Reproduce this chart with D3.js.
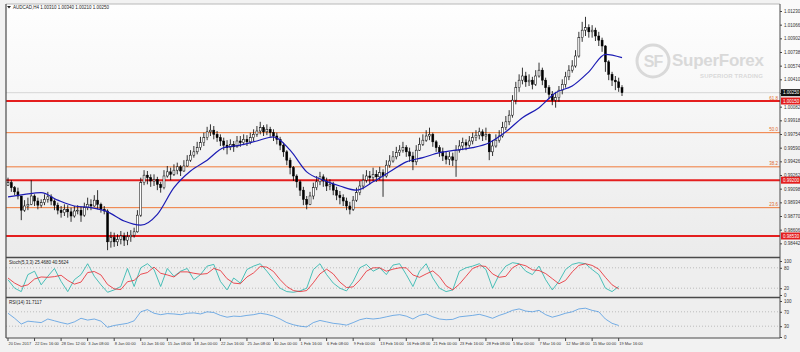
<!DOCTYPE html>
<html>
<head>
<meta charset="utf-8">
<script src="https://cdn.jsdelivr.net/npm/d3@7"></script>
<style>
  html, body { margin: 0; padding: 0; background: #f1f1f1; }
  svg { display: block; font-family: "Liberation Sans", Arial, sans-serif; }
</style>
</head>
<body>
<div id="chart"></div>
<script>
// AUDCAD H4, 20 Dec 2017 - 19 Mar 2018 (one value per two H4 bars)
const symbolTitle = "AUDCAD,H4  1.00310 1.00340 1.00210 1.00250";
const firstOpen = 0.9914;

const closes = [
  0.9917,0.9911,0.9906,0.9901,0.9884,0.9889,0.9891,0.9901,0.9895,0.9890,
  0.9893,0.9897,0.9900,0.9895,0.9890,0.9884,0.9881,0.9885,0.9882,0.9877,
  0.9883,0.9884,0.9878,0.9887,0.9891,0.9889,0.9896,0.9891,0.9885,0.9883,
  0.9846,0.9851,0.9846,0.9849,0.9853,0.9848,0.9852,0.9854,0.9858,0.9878,
  0.9917,0.9926,0.9923,0.9919,0.9921,0.9915,0.9911,0.9925,0.9930,0.9927,
  0.9932,0.9936,0.9931,0.9937,0.9944,0.9950,0.9954,0.9959,0.9965,0.9971,
  0.9978,0.9980,0.9975,0.9971,0.9967,0.9962,0.9959,0.9963,0.9960,0.9967,
  0.9965,0.9969,0.9966,0.9971,0.9975,0.9979,0.9983,0.9978,0.9981,0.9977,
  0.9973,0.9969,0.9962,0.9954,0.9944,0.9935,0.9925,0.9918,0.9908,0.9897,
  0.9891,0.9901,0.9911,0.9918,0.9924,0.9919,0.9913,0.9915,0.9908,0.9902,
  0.9899,0.9895,0.9889,0.9885,0.9896,0.9905,0.9913,0.9920,0.9925,0.9923,
  0.9927,0.9924,0.9929,0.9925,0.9938,0.9943,0.9948,0.9953,0.9956,0.9959,
  0.9954,0.9949,0.9942,0.9956,0.9963,0.9968,0.9973,0.9975,0.9966,0.9959,
  0.9954,0.9949,0.9945,0.9948,0.9944,0.9956,0.9961,0.9965,0.9962,0.9967,
  0.9971,0.9974,0.9978,0.9973,0.9975,0.9954,0.9961,0.9968,0.9973,0.9983,
  0.9990,0.9998,1.0016,1.0031,1.0040,1.0045,1.0038,1.0040,1.0035,1.0045,
  1.0052,1.0040,1.0031,1.0023,1.0016,1.0019,1.0028,1.0035,1.0044,1.0052,
  1.0057,1.0069,1.0091,1.0100,1.0103,1.0098,1.0100,1.0093,1.0088,1.0081,
  1.0062,1.0047,1.0040,1.0038,1.0031,1.0025
];
const highs = [
  0.9923,0.9920,0.9913,0.9911,0.9901,0.9896,0.9899,0.9920,0.9903,0.9899,
  0.9897,0.9903,0.9906,0.9903,0.9897,0.9893,0.9889,0.9891,0.9890,0.9887,
  0.9889,0.9890,0.9888,0.9893,0.9899,0.9897,0.9902,0.9908,0.9893,0.9889,
  0.9885,0.9858,0.9857,0.9855,0.9859,0.9857,0.9858,0.9860,0.9863,0.9884,
  0.9923,0.9932,0.9931,0.9927,0.9927,0.9924,0.9918,0.9932,0.9937,0.9935,
  0.9939,0.9941,0.9938,0.9944,0.9950,0.9956,0.9961,0.9966,0.9972,0.9977,
  0.9984,0.9987,0.9985,0.9979,0.9975,0.9971,0.9968,0.9969,0.9967,0.9973,
  0.9973,0.9975,0.9974,0.9977,0.9981,0.9985,0.9990,0.9986,0.9987,0.9984,
  0.9981,0.9977,0.9972,0.9965,0.9956,0.9947,0.9937,0.9927,0.9920,0.9912,
  0.9901,0.9906,0.9917,0.9925,0.9930,0.9927,0.9923,0.9921,0.9918,0.9912,
  0.9907,0.9903,0.9899,0.9894,0.9901,0.9911,0.9919,0.9927,0.9932,0.9931,
  0.9935,0.9932,0.9936,0.9933,0.9944,0.9950,0.9955,0.9960,0.9962,0.9966,
  0.9962,0.9959,0.9954,0.9962,0.9971,0.9975,0.9980,0.9983,0.9977,0.9968,
  0.9962,0.9959,0.9955,0.9954,0.9953,0.9962,0.9968,0.9971,0.9969,0.9973,
  0.9977,0.9980,0.9983,0.9981,0.9983,0.9976,0.9968,0.9975,0.9980,0.9990,
  0.9997,1.0004,1.0022,1.0038,1.0047,1.0055,1.0050,1.0047,1.0044,1.0052,
  1.0061,1.0055,1.0043,1.0034,1.0027,1.0026,1.0033,1.0041,1.0050,1.0058,
  1.0064,1.0076,1.0098,1.0110,1.0116,1.0107,1.0106,1.0103,1.0098,1.0091,
  1.0082,1.0064,1.0050,1.0045,1.0043,1.0034
];
const lows = [
  0.9913,0.9906,0.9902,0.9897,0.9872,0.9882,0.9884,0.9890,0.9889,0.9885,
  0.9887,0.9890,0.9893,0.9890,0.9884,0.9879,0.9875,0.9877,0.9875,0.9870,
  0.9875,0.9879,0.9870,0.9876,0.9884,0.9884,0.9888,0.9885,0.9881,0.9879,
  0.9836,0.9839,0.9840,0.9841,0.9843,0.9841,0.9842,0.9846,0.9851,0.9857,
  0.9876,0.9914,0.9915,0.9912,0.9913,0.9908,0.9905,0.9909,0.9923,0.9920,
  0.9925,0.9927,0.9925,0.9930,0.9936,0.9942,0.9947,0.9951,0.9956,0.9961,
  0.9968,0.9973,0.9969,0.9966,0.9961,0.9956,0.9951,0.9956,0.9954,0.9959,
  0.9960,0.9962,0.9961,0.9963,0.9967,0.9972,0.9975,0.9973,0.9974,0.9972,
  0.9967,0.9963,0.9956,0.9948,0.9938,0.9927,0.9919,0.9911,0.9901,0.9890,
  0.9885,0.9890,0.9897,0.9908,0.9914,0.9912,0.9907,0.9908,0.9902,0.9896,
  0.9891,0.9889,0.9884,0.9879,0.9883,0.9894,0.9902,0.9909,0.9917,0.9915,
  0.9919,0.9918,0.9920,0.9900,0.9923,0.9935,0.9941,0.9945,0.9949,0.9953,
  0.9948,0.9942,0.9932,0.9938,0.9955,0.9961,0.9966,0.9968,0.9960,0.9954,
  0.9948,0.9943,0.9939,0.9938,0.9937,0.9924,0.9953,0.9956,0.9956,0.9959,
  0.9963,0.9967,0.9969,0.9967,0.9968,0.9944,0.9949,0.9959,0.9965,0.9971,
  0.9980,0.9986,0.9995,1.0011,1.0026,1.0035,1.0032,1.0033,1.0029,1.0033,
  1.0043,1.0034,1.0025,1.0017,1.0010,1.0007,1.0014,1.0023,1.0031,1.0040,
  1.0049,1.0055,1.0067,1.0086,1.0093,1.0091,1.0091,1.0087,1.0081,1.0074,
  1.0050,1.0040,1.0033,1.0028,1.0026,1.0021
];

// moving average, read every 5th bar
const maStep = 5;
const maValues = [
  0.9900,0.9903,0.9905,0.9896,0.9889,0.9887,0.9882,0.9871,0.9866,0.9879,
  0.9911,0.9931,0.9944,0.9959,0.9962,0.9967,0.9972,0.9956,0.9930,0.9920,
  0.9913,0.9908,0.9918,0.9930,0.9942,0.9947,0.9953,0.9956,0.9959,0.9965,
  0.9978,0.9995,1.0007,1.0025,1.0033,1.0050,1.0071,1.0067
];

// oscillators, read every 2nd bar
const oscStep = 2;
const stochMain = [
  45,20,10,60,70,30,55,78,40,10, 45,60,92,55,30,8,15,25,78,25,
  80,92,75,25,78,55,70,78,45,60, 85,90,40,15,50,35,75,85,92,70,
  45,20,10,8,12,20,75,92,60,35, 20,12,40,80,90,70,80,60,88,92,
  60,25,70,92,50,20,10,15,70,80, 85,92,75,20,60,85,95,92,70,60,
  85,45,15,40,75,90,95,92,75,60, 20,10,25
];
const stochSignal = [
  50,35,25,30,47,53,52,54,58,43, 32,38,66,69,59,31,18,16,39,43,
  61,66,82,64,59,53,68,68,64,61, 63,78,72,48,35,33,53,65,84,82,
  69,45,25,13,10,13,36,62,76,62, 38,22,24,44,70,80,80,70,76,80,
  80,59,52,62,71,54,27,15,32,55, 78,86,84,62,52,55,80,91,86,74,
  72,63,48,33,43,68,87,92,87,76, 52,30,18
];
const rsiValues = [
  66,52,36,44,42,40,50,45,40,36, 42,52,47,50,44,27,32,35,38,45,
  70,76,66,62,65,64,62,66,67,64, 70,68,60,55,58,57,60,62,66,63,
  58,50,40,34,30,28,40,46,42,38, 36,33,40,48,52,50,52,56,60,62,
  58,50,60,64,56,50,48,49,56,58, 60,63,58,52,60,66,74,78,72,70,
  74,62,55,60,66,70,78,80,74,70, 50,38,32
];

// one date label every 8 bars
const labelStep = 8;
const dateLabels = [
  "20 Dec 2017","22 Dec 16:00","28 Dec 12:00","3 Jan 08:00","8 Jan 00:00","10 Jan 16:00",
  "15 Jan 08:00","18 Jan 00:00","22 Jan 16:00","25 Jan 08:00","30 Jan 00:00","1 Feb 16:00",
  "6 Feb 08:00","9 Feb 00:00","13 Feb 16:00","16 Feb 08:00","21 Feb 00:00","23 Feb 16:00",
  "28 Feb 08:00","5 Mar 00:00","7 Mar 16:00","12 Mar 08:00","15 Mar 00:00","19 Mar 16:00"
];
const priceTicks = [
  1.01230,1.01066,1.00902,1.00738,1.00574,1.00410,1.00246,1.00082,0.99918,
  0.99754,0.99590,0.99426,0.99262,0.99098,0.98934,0.98770,0.98606,0.98442
];
const redLevels = [1.0015, 0.9920, 0.9853];
const fibLevels = [1.0015, 0.9977, 0.9936, 0.9887];
const fibNames = ["61.8", "50.0", "38.2", "23.6"];
const stochLevels = [80, 20];
const rsiLevels = [70, 30];

const W = 800, H = 352;
const L = 6, R = 780;

const svg = d3.select("#chart").append("svg")
  .attr("width", W)
  .attr("height", H);

const defs = svg.append("defs");
const grad = defs.append("linearGradient").attr("id", "bg")
  .attr("x1", 0).attr("y1", 0).attr("x2", 0).attr("y2", 1);
grad.append("stop").attr("offset", "0%").attr("stop-color", "#fefefe");
grad.append("stop").attr("offset", "100%").attr("stop-color", "#ebebeb");

svg.append("rect").attr("width", W).attr("height", H).attr("fill", "#f2f2f2");
svg.append("rect").attr("x", R).attr("y", 0).attr("width", W - R).attr("height", 120).attr("fill", "#fafafa");
svg.append("rect").attr("x", L).attr("y", 4).attr("width", R - L).attr("height", 253).attr("fill", "url(#bg)");
svg.append("rect").attr("x", L).attr("y", 258).attr("width", R - L).attr("height", 39).attr("fill", "#eeeeee");
svg.append("rect").attr("x", L).attr("y", 298).attr("width", R - L).attr("height", 40).attr("fill", "#eeeeee");

// scales
const x = d3.scaleBand()
  .domain(d3.range(closes.length))
  .range([7, 623])
  .paddingInner(0.4);
const cx = i => x(i) + x.bandwidth() / 2;

const y = d3.scaleLinear().domain([0.98278, 1.01314]).range([257, 4]);
const ys = d3.scaleLinear().domain([0, 100]).range([295, 261]);
const yr = d3.scaleLinear().domain([0, 100]).range([337, 301]);

// watermark
const wm = svg.append("g").attr("fill", "#d9d9d9");
wm.append("circle").attr("cx", 653).attr("cy", 61).attr("r", 16)
  .attr("fill", "none").attr("stroke", "#d9d9d9").attr("stroke-width", 3);
wm.append("text").attr("x", 653).attr("y", 67).attr("text-anchor", "middle")
  .style("font-size", "16px").style("font-weight", "bold").style("letter-spacing", "-1px").text("SF");
wm.append("text").attr("x", 672).attr("y", 66).attr("textLength", 92)
  .style("font-size", "17px").style("font-weight", "bold").text("SuperForex");
wm.append("text").attr("x", 700).attr("y", 78).attr("textLength", 63)
  .style("font-size", "6px").style("font-weight", "bold").text("SUPERIOR TRADING");

// fibo + support/resistance lines
svg.append("g").selectAll("line")
  .data(fibLevels)
  .join("line")
  .attr("x1", L).attr("x2", R)
  .attr("y1", d => y(d)).attr("y2", d => y(d))
  .attr("stroke", "#f07a3a").attr("stroke-width", 1);

svg.append("g").selectAll("text")
  .data(fibLevels)
  .join("text")
  .attr("x", R - 2).attr("y", d => y(d) - 1.5)
  .attr("text-anchor", "end")
  .attr("fill", "#e06a2a")
  .style("font-size", "4.5px")
  .text((d, i) => fibNames[i]);

svg.append("g").selectAll("line")
  .data(redLevels)
  .join("line")
  .attr("x1", L).attr("x2", R)
  .attr("y1", d => y(d)).attr("y2", d => y(d))
  .attr("stroke", "#e41e1e").attr("stroke-width", 2);

// bid line
const lastClose = closes[closes.length - 1];
svg.append("line")
  .attr("x1", L).attr("x2", R)
  .attr("y1", y(lastClose)).attr("y2", y(lastClose))
  .attr("stroke", "#c9c9c9").attr("stroke-width", 0.7);

// candles
const bars = closes.map((c, i) => ({ i, o: i ? closes[i - 1] : firstOpen, c, h: highs[i], l: lows[i] }));

const candles = svg.append("g");
candles.selectAll("line")
  .data(bars)
  .join("line")
  .attr("x1", d => cx(d.i)).attr("x2", d => cx(d.i))
  .attr("y1", d => y(d.h)).attr("y2", d => y(d.l))
  .attr("stroke", "#000").attr("stroke-width", 0.8);

candles.selectAll("rect")
  .data(bars)
  .join("rect")
  .attr("x", d => x(d.i))
  .attr("width", x.bandwidth())
  .attr("y", d => y(Math.max(d.o, d.c)))
  .attr("height", d => Math.max(0.8, Math.abs(y(d.o) - y(d.c))))
  .attr("fill", d => d.c >= d.o ? "#ffffff" : "#000000")
  .attr("stroke", "#000").attr("stroke-width", 0.5);

// moving average
svg.append("path")
  .datum(maValues)
  .attr("fill", "none")
  .attr("stroke", "#1c1cb4")
  .attr("stroke-width", 1.2)
  .attr("d", d3.line().x((d, k) => cx(k * maStep)).y(d => y(d)).curve(d3.curveMonotoneX));

// oscillator level lines
svg.append("g").selectAll("line")
  .data(stochLevels)
  .join("line")
  .attr("x1", L).attr("x2", R)
  .attr("y1", d => ys(d)).attr("y2", d => ys(d))
  .attr("stroke", "#9a9a9a").attr("stroke-width", 0.6).attr("stroke-dasharray", "1,2");

svg.append("g").selectAll("line")
  .data(rsiLevels)
  .join("line")
  .attr("x1", L).attr("x2", R)
  .attr("y1", d => yr(d)).attr("y2", d => yr(d))
  .attr("stroke", "#9a9a9a").attr("stroke-width", 0.6).attr("stroke-dasharray", "1,2");

const oscLine = scale => d3.line().x((d, k) => cx(k * oscStep)).y(d => scale(d));

svg.append("path").datum(stochMain)
  .attr("fill", "none").attr("stroke", "#20b2aa").attr("stroke-width", 0.8)
  .attr("d", oscLine(ys));
svg.append("path").datum(stochSignal)
  .attr("fill", "none").attr("stroke", "#e8232b").attr("stroke-width", 0.8)
  .attr("d", oscLine(ys));
svg.append("path").datum(rsiValues)
  .attr("fill", "none").attr("stroke", "#3d8fe0").attr("stroke-width", 0.7)
  .attr("d", oscLine(yr));

// frame
const frame = svg.append("g").attr("stroke", "#4a4a4a").attr("fill", "none");
frame.append("line").attr("x1", L).attr("x2", R).attr("y1", 4).attr("y2", 4).attr("stroke", "#b8b8b8");
frame.append("line").attr("x1", L).attr("x2", L).attr("y1", 4).attr("y2", 338).attr("stroke-width", 1.2);
frame.append("line").attr("x1", R).attr("x2", R).attr("y1", 4).attr("y2", 338);
frame.append("line").attr("x1", L).attr("x2", R).attr("y1", 257.5).attr("y2", 257.5).attr("stroke-width", 1.6);
frame.append("line").attr("x1", L).attr("x2", R).attr("y1", 297.5).attr("y2", 297.5).attr("stroke-width", 1.6);
frame.append("line").attr("x1", L).attr("x2", R).attr("y1", 338).attr("y2", 338);

// axes
function styleAxis(g, size) {
  g.select(".domain").remove();
  g.selectAll(".tick line").attr("stroke", "#444");
  g.selectAll("text").attr("fill", "#333").style("font-size", size)
    .style("font-family", "'Liberation Sans', Arial, sans-serif");
}

svg.append("g")
  .attr("transform", `translate(${R},0)`)
  .call(d3.axisRight(y).tickValues(priceTicks).tickSize(2).tickPadding(2).tickFormat(d3.format(".5f")))
  .call(g => styleAxis(g, "4.5px"));

svg.append("g")
  .attr("transform", `translate(${R},0)`)
  .call(d3.axisRight(ys).tickValues([100, 80, 20, 0]).tickSize(2).tickPadding(2))
  .call(g => styleAxis(g, "4.5px"));

svg.append("g")
  .attr("transform", `translate(${R},0)`)
  .call(d3.axisRight(yr).tickValues([100, 70, 30, 0]).tickSize(2).tickPadding(2))
  .call(g => styleAxis(g, "4.5px"));

svg.append("g")
  .attr("transform", "translate(0,338)")
  .call(d3.axisBottom(x)
    .tickValues(dateLabels.map((d, j) => j * labelStep))
    .tickSize(3).tickPadding(1)
    .tickFormat((d, j) => dateLabels[j]))
  .call(g => styleAxis(g, "4px"))
  .call(g => g.selectAll("text").attr("text-anchor", "start").attr("dx", "0.5"));

// price boxes on the axis
const boxes = svg.append("g");
redLevels.forEach(v => {
  boxes.append("rect").attr("x", R + 1).attr("y", y(v) - 3.5).attr("width", W - R - 1).attr("height", 7)
    .attr("fill", "#e41e1e");
  boxes.append("text").attr("x", R + 3).attr("y", y(v) + 1.6).attr("fill", "#fff")
    .style("font-size", "4.5px").text(d3.format(".5f")(v));
});
boxes.append("rect").attr("x", R + 1).attr("y", y(lastClose) - 3.5).attr("width", W - R - 1).attr("height", 7)
  .attr("fill", "#111");
boxes.append("text").attr("x", R + 3).attr("y", y(lastClose) + 1.6).attr("fill", "#fff")
  .style("font-size", "4.5px").text(d3.format(".5f")(lastClose));

// captions
svg.append("path").attr("d", "M7,6 L11,6 L9,8.5 Z").attr("fill", "#222");
svg.append("text").attr("x", 13).attr("y", 8.5).attr("fill", "#222")
  .style("font-size", "4.5px").text(symbolTitle);
svg.append("text").attr("x", 9).attr("y", 263.5).attr("fill", "#222")
  .style("font-size", "4.5px").text("Stoch(5,3,3) 25.4680 40.5624");
svg.append("text").attr("x", 9).attr("y", 303.5).attr("fill", "#222")
  .style("font-size", "4.5px").text("RSI(14) 31.7117");
</script>
</body>
</html>
